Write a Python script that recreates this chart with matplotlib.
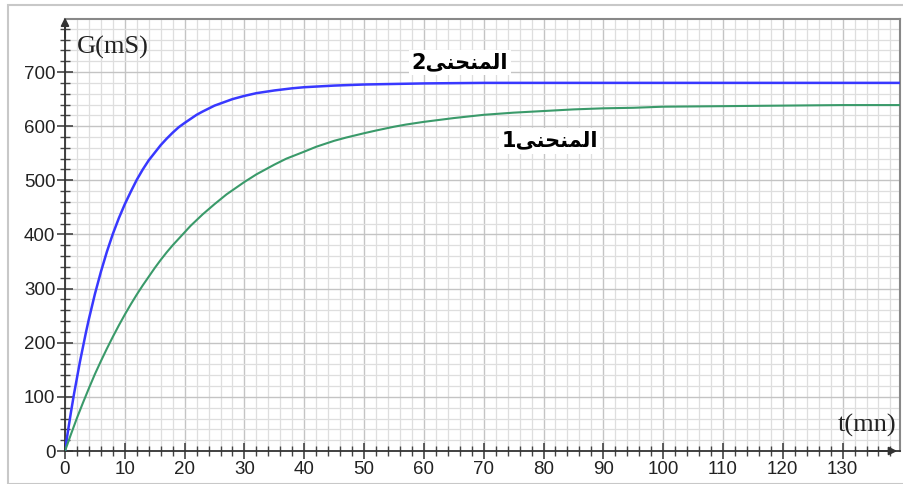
import matplotlib
matplotlib.use("Agg")
import matplotlib.pyplot as plt
from matplotlib.ticker import MultipleLocator
from matplotlib.patches import Rectangle

# values
t1 = [0, 1, 2, 3, 4, 5, 6, 7, 8, 9, 10, 11, 12, 13, 14, 15, 16, 17, 18, 19, 20, 21, 23, 25, 27, 30,
      32, 35, 37, 40, 42, 45, 47, 50, 52, 55, 57, 60, 65, 70, 75, 80, 85, 90, 95, 100, 110, 120, 130, 140]
g1 = [0, 31, 61, 89, 116, 142, 166, 189, 211, 232, 252, 271, 289, 306, 322, 338, 353, 367, 380, 392, 404,
      416, 437, 456, 474, 497, 511, 529, 540, 553, 562, 573, 579, 587, 592, 599, 603, 608, 615, 621, 625,
      628, 631, 633, 634, 636, 637, 638, 639, 639]

t2 = [0, 0.5, 1, 1.5, 2, 2.5, 3, 3.5, 4, 5, 6, 7, 8, 9, 10, 11, 12, 13, 14, 15, 16, 17, 18, 19, 20,
      22, 23, 25, 26, 28, 30, 32, 35, 38, 40, 45, 50, 55, 60, 70, 80, 100, 120, 140]
g2 = [0, 37, 72, 105, 135, 165, 192, 219, 244, 290, 331, 368, 401, 430, 456, 479, 501, 520, 537, 551,
      565, 577, 588, 598, 606, 621, 627, 638, 642, 650, 656, 661, 666, 670, 672, 675, 677, 678, 679,
      680, 680, 680, 680, 680]

label1 = "1" + "\ufef0\ufee8\ufea4\ufee8\ufee4\ufedf\ufe8d"
label2 = "2" + "\ufef0\ufee8\ufea4\ufee8\ufee4\ufedf\ufe8d"

W, H = 904, 484
fig = plt.figure(figsize=(W / 100, H / 100), dpi=100)
fig.patches.append(Rectangle((8 / W, 0), 1, 1 - 5 / H, transform=fig.transFigure,
                             fill=False, edgecolor="#c8c8c8", lw=1.5))

ax = fig.add_axes([65 / W, 33 / H, (900 - 65) / W, (451 - 19) / H])
ax.set_xlim(0, 139.6)
ax.set_ylim(0, 798)

ax.xaxis.set_major_locator(MultipleLocator(10))
ax.xaxis.set_minor_locator(MultipleLocator(2))
ax.yaxis.set_major_locator(MultipleLocator(100))
ax.yaxis.set_minor_locator(MultipleLocator(20))
ax.grid(which="major", color="#c4c4c4", lw=1.0)
ax.grid(which="minor", color="#dedede", lw=0.9)
ax.set_axisbelow(True)

ax.set_xticks(range(0, 140, 10))
ax.set_yticks(range(0, 800, 100))
ax.tick_params(which="major", direction="inout", length=12, width=1.2, color="#444444",
               labelsize=13.5, pad=1)
ax.tick_params(which="minor", direction="inout", length=7, width=1.0, color="#444444")
for lab in ax.get_xticklabels() + ax.get_yticklabels():
    lab.set_fontfamily("Liberation Sans")
    lab.set_color("#222222")

for s in ["top", "right"]:
    ax.spines[s].set_color("#888888")
    ax.spines[s].set_linewidth(1.5)
for s in ["left", "bottom"]:
    ax.spines[s].set_color("#333333")
    ax.spines[s].set_linewidth(1.3)

ax.plot(t2, g2, color="#3838ff", lw=1.8, zorder=3)
ax.plot(t1, g1, color="#3a9a6a", lw=1.5, zorder=3)

ax.text(2.0, 746, "G(mS)", fontsize=19, family="Liberation Serif", color="#222222",
        va="center", ha="left")
ax.text(139, 48, "t(mn)", fontsize=19, family="Liberation Serif", color="#222222",
        va="center", ha="right")

ax.text(66, 718, label2, fontsize=15, fontweight="bold", family="DejaVu Sans",
        ha="center", va="center", color="black",
        bbox=dict(facecolor="white", edgecolor="none", pad=2))
ax.text(81, 573, label1, fontsize=15, fontweight="bold", family="DejaVu Sans",
        ha="center", va="center", color="black",
        bbox=dict(facecolor="white", edgecolor="none", pad=2))

ax.annotate("", xy=(0, 1.01), xytext=(0, 0.95), xycoords="axes fraction",
            arrowprops=dict(arrowstyle="-|>", color="#333333", lw=1.3, mutation_scale=12))
ax.annotate("", xy=(1.0, 0), xytext=(0.96, 0), xycoords="axes fraction",
            arrowprops=dict(arrowstyle="-|>", color="#333333", lw=1.3, mutation_scale=12))

fig.savefig("out.png", dpi=100)
